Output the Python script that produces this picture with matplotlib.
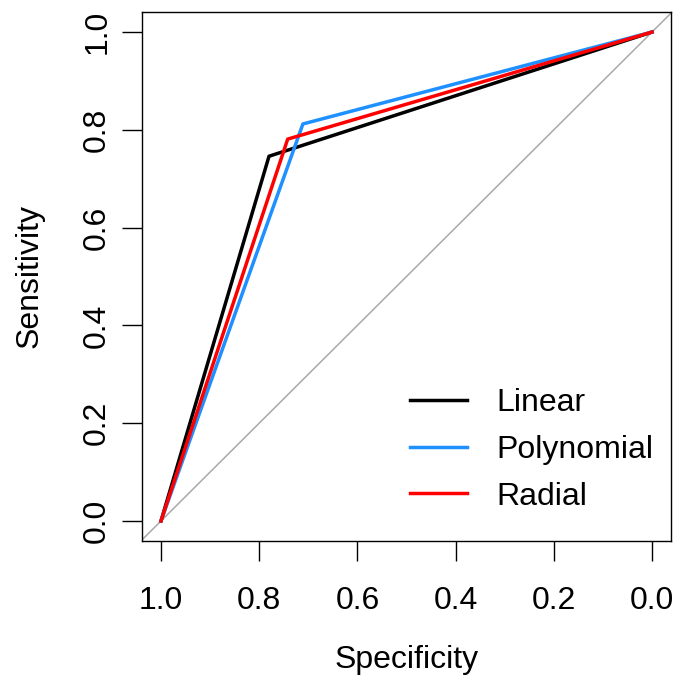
import numpy as np
import matplotlib.pyplot as plt

plt.rcParams['font.family'] = ['Liberation Sans', 'DejaVu Sans']

# ROC points (specificity, sensitivity)
models = ["Linear", "Polynomial", "Radial"]
colors = ["black", "#1E90FF", "red"]
spec = {
    "Linear": [1.0, 0.78, 0.0],
    "Polynomial": [1.0, 0.711, 0.0],
    "Radial": [1.0, 0.742, 0.0],
}
sens = {
    "Linear": [0.0, 0.746, 1.0],
    "Polynomial": [0.0, 0.812, 1.0],
    "Radial": [0.0, 0.781, 1.0],
}
ticks = [1.0, 0.8, 0.6, 0.4, 0.2, 0.0]
fs = 23

fig = plt.figure(figsize=(6.75, 6.77), dpi=100)
ax = fig.add_axes([142/675, 136/677, 529/675, 529/677])

ax.plot([1.04, -0.04], [-0.04, 1.04], color="darkgrey", lw=1.1, zorder=1)
for m, c in zip(models, colors):
    ax.plot(spec[m], sens[m], color=c, lw=2.5, label=m, zorder=2)

ax.set_xlim(1.0387, -0.0387)
ax.set_ylim(-0.041, 1.041)
ax.set_xticks(ticks)
ax.set_xticklabels([f"{t:.1f}" for t in ticks])
ax.set_yticks(ticks)
ax.set_yticklabels([f"{t:.1f}" for t in ticks], rotation=90, va="center")
ax.tick_params(labelsize=fs, length=14.5, width=1)
ax.tick_params(axis="x", pad=18)
ax.tick_params(axis="y", pad=7)
for s in ax.spines.values():
    s.set_linewidth(1)

ax.set_xlabel("Specificity", fontsize=fs, labelpad=21)
ax.set_ylabel("Sensitivity", fontsize=fs, labelpad=27)

ax.legend(loc="center left", bbox_to_anchor=(0.5066, 0.172), frameon=False,
          fontsize=fs, handlelength=1.8, handletextpad=0.9, labelspacing=0.52,
          borderpad=0, borderaxespad=0)

fig.savefig("out.png", dpi=100)
